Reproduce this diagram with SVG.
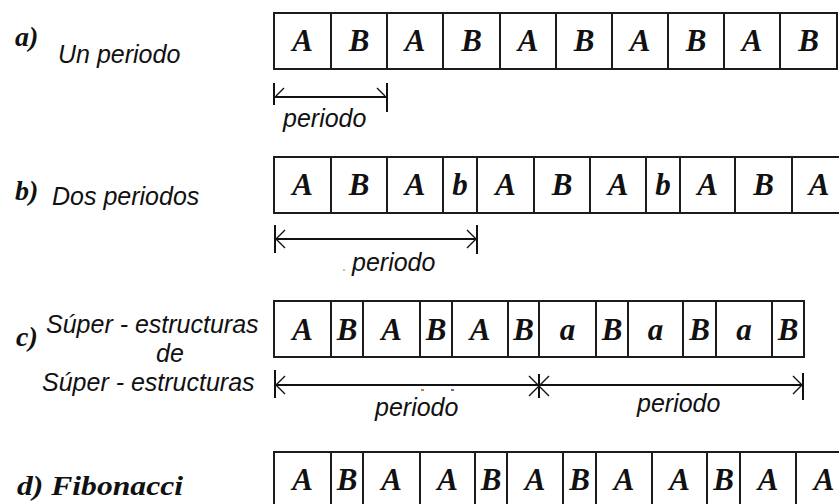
<svg xmlns="http://www.w3.org/2000/svg" width="839" height="504" viewBox="0 0 839 504">
<style>
.cell{fill:none;stroke:#1c1c1c;stroke-width:2}
.sym{font-family:"Liberation Serif","DejaVu Serif",serif;font-weight:bold;font-style:italic;font-size:31px;text-anchor:middle;fill:#111}
.lbl{font-family:"Liberation Sans",Arial,sans-serif;font-style:italic;font-size:25px;fill:#111}
.tag{font-family:"Liberation Serif","DejaVu Serif",serif;font-weight:bold;font-style:italic;font-size:28px;fill:#111}
.dim{stroke:#111;stroke-width:2;fill:none}
.dimt{stroke:#111;stroke-width:1.4;fill:none}
</style>
<rect width="839" height="504" fill="#fff"/>

<g id="label-a"><text class="tag" x="15" y="46">a)</text><text class="lbl" x="58" y="63">Un periodo</text></g>
<g id="label-b"><text class="tag" x="15" y="200">b)</text><text class="lbl" x="52" y="205">Dos periodos</text></g>
<g id="label-c"><text class="tag" x="16" y="346">c)</text><text class="lbl" x="46" y="333">Súper - estructuras</text><text class="lbl" x="170" y="362" text-anchor="middle">de</text><text class="lbl" x="42" y="391">Súper - estructuras</text></g>
<g id="label-d"><text class="tag" x="17" y="495" font-size="27" textLength="166" lengthAdjust="spacingAndGlyphs">d) Fibonacci</text></g>

<g id="row-a">
<g id="a1"><rect class="cell" x="274" y="13" width="57" height="56"/><text class="sym" x="302.5" y="51">A</text></g>
<g id="a2"><rect class="cell" x="331" y="13" width="56" height="56"/><text class="sym" x="359" y="51">B</text></g>
<g id="a3"><rect class="cell" x="387" y="13" width="56" height="56"/><text class="sym" x="415" y="51">A</text></g>
<g id="a4"><rect class="cell" x="443" y="13" width="57" height="56"/><text class="sym" x="471.5" y="51">B</text></g>
<g id="a5"><rect class="cell" x="500" y="13" width="56" height="56"/><text class="sym" x="528" y="51">A</text></g>
<g id="a6"><rect class="cell" x="556" y="13" width="56" height="56"/><text class="sym" x="584" y="51">B</text></g>
<g id="a7"><rect class="cell" x="612" y="13" width="56" height="56"/><text class="sym" x="640" y="51">A</text></g>
<g id="a8"><rect class="cell" x="668" y="13" width="56" height="56"/><text class="sym" x="696" y="51">B</text></g>
<g id="a9"><rect class="cell" x="724" y="13" width="56" height="56"/><text class="sym" x="752" y="51">A</text></g>
<g id="a10"><rect class="cell" x="780" y="13" width="57" height="56"/><text class="sym" x="808.5" y="51">B</text></g>
</g>

<g id="row-b">
<g id="b1"><rect class="cell" x="274" y="157" width="57" height="56"/><text class="sym" x="302.5" y="195">A</text></g>
<g id="b2"><rect class="cell" x="331" y="157" width="56" height="56"/><text class="sym" x="359" y="195">B</text></g>
<g id="b3"><rect class="cell" x="387" y="157" width="56" height="56"/><text class="sym" x="415" y="195">A</text></g>
<g id="b4"><rect class="cell" x="443" y="157" width="34" height="56"/><text class="sym" x="460" y="195">b</text></g>
<g id="b5"><rect class="cell" x="477" y="157" width="57" height="56"/><text class="sym" x="505.5" y="195">A</text></g>
<g id="b6"><rect class="cell" x="534" y="157" width="56" height="56"/><text class="sym" x="562" y="195">B</text></g>
<g id="b7"><rect class="cell" x="590" y="157" width="56" height="56"/><text class="sym" x="618" y="195">A</text></g>
<g id="b8"><rect class="cell" x="646" y="157" width="34" height="56"/><text class="sym" x="663" y="195">b</text></g>
<g id="b9"><rect class="cell" x="680" y="157" width="55" height="56"/><text class="sym" x="707.5" y="195">A</text></g>
<g id="b10"><rect class="cell" x="735" y="157" width="57" height="56"/><text class="sym" x="763.5" y="195">B</text></g>
<g id="b11"><rect class="cell" x="792" y="157" width="58" height="56"/><text class="sym" x="819" y="195">A</text></g>
</g>

<g id="row-c">
<g id="c1"><rect class="cell" x="274" y="301" width="57" height="56"/><text class="sym" x="302.5" y="340">A</text></g>
<g id="c2"><rect class="cell" x="331" y="301" width="32" height="56"/><text class="sym" x="347" y="340">B</text></g>
<g id="c3"><rect class="cell" x="363" y="301" width="57" height="56"/><text class="sym" x="391.5" y="340">A</text></g>
<g id="c4"><rect class="cell" x="420" y="301" width="32" height="56"/><text class="sym" x="436" y="340">B</text></g>
<g id="c5"><rect class="cell" x="452" y="301" width="56" height="56"/><text class="sym" x="480" y="340">A</text></g>
<g id="c6"><rect class="cell" x="508" y="301" width="31" height="56"/><text class="sym" x="523.5" y="340">B</text></g>
<g id="c7"><rect class="cell" x="539" y="301" width="57" height="56"/><text class="sym" x="567.5" y="340">a</text></g>
<g id="c8"><rect class="cell" x="596" y="301" width="32" height="56"/><text class="sym" x="612" y="340">B</text></g>
<g id="c9"><rect class="cell" x="628" y="301" width="55" height="56"/><text class="sym" x="655.5" y="340">a</text></g>
<g id="c10"><rect class="cell" x="683" y="301" width="33" height="56"/><text class="sym" x="699.5" y="340">B</text></g>
<g id="c11"><rect class="cell" x="716" y="301" width="56" height="56"/><text class="sym" x="744" y="340">a</text></g>
<g id="c12"><rect class="cell" x="772" y="301" width="32" height="56"/><text class="sym" x="788" y="340">B</text></g>
</g>

<g id="row-d">
<g id="d1"><rect class="cell" x="274" y="452" width="57" height="56"/><text class="sym" x="302.5" y="490">A</text></g>
<g id="d2"><rect class="cell" x="331" y="452" width="32" height="56"/><text class="sym" x="347" y="490">B</text></g>
<g id="d3"><rect class="cell" x="363" y="452" width="57" height="56"/><text class="sym" x="391.5" y="490">A</text></g>
<g id="d4"><rect class="cell" x="420" y="452" width="55" height="56"/><text class="sym" x="447.5" y="490">A</text></g>
<g id="d5"><rect class="cell" x="475" y="452" width="32" height="56"/><text class="sym" x="491" y="490">B</text></g>
<g id="d6"><rect class="cell" x="507" y="452" width="56" height="56"/><text class="sym" x="535" y="490">A</text></g>
<g id="d7"><rect class="cell" x="563" y="452" width="33" height="56"/><text class="sym" x="579.5" y="490">B</text></g>
<g id="d8"><rect class="cell" x="596" y="452" width="56" height="56"/><text class="sym" x="624" y="490">A</text></g>
<g id="d9"><rect class="cell" x="652" y="452" width="55" height="56"/><text class="sym" x="679.5" y="490">A</text></g>
<g id="d10"><rect class="cell" x="707" y="452" width="33" height="56"/><text class="sym" x="723.5" y="490">B</text></g>
<g id="d11"><rect class="cell" x="740" y="452" width="56" height="56"/><text class="sym" x="768" y="490">A</text></g>
<g id="d12"><rect class="cell" x="796" y="452" width="56" height="56"/><text class="sym" x="824" y="490">A</text></g>
</g>

<g id="connectors">
<g id="period-a">
<path class="dim" d="M274 83V105M387 83V112M274 97H387"/>
<path class="dimt" d="M276 96L284 88M385 96L377 88"/>
<text class="lbl" x="283" y="127">periodo</text>
</g>
<g id="period-b">
<path class="dim" d="M275 225V253M477 225V254M275 239H477"/>
<path class="dimt" d="M276 239L285 230M276 239L285 248M476 239L467 230M476 239L467 248"/>
<circle cx="344" cy="270" r="1" fill="#d9a066"/>
<text class="lbl" x="352" y="271">periodo</text>
</g>
<g id="period-c">
<path class="dim" d="M275 370V398M274 385H803M539 374V398M803 373V400"/>
<path class="dimt" d="M276 385L285 376M276 385L285 394M529 376L549 396M529 396L549 376M802 385L793 376M802 385L793 394"/>
<rect x="421" y="389" width="3" height="2" fill="#c08050"/>
<rect x="451" y="389" width="3" height="2" fill="#5070b0"/>
<text class="lbl" x="375" y="416">periodo</text>
<text class="lbl" x="637" y="412">periodo</text>
</g>
</g>
</svg>
